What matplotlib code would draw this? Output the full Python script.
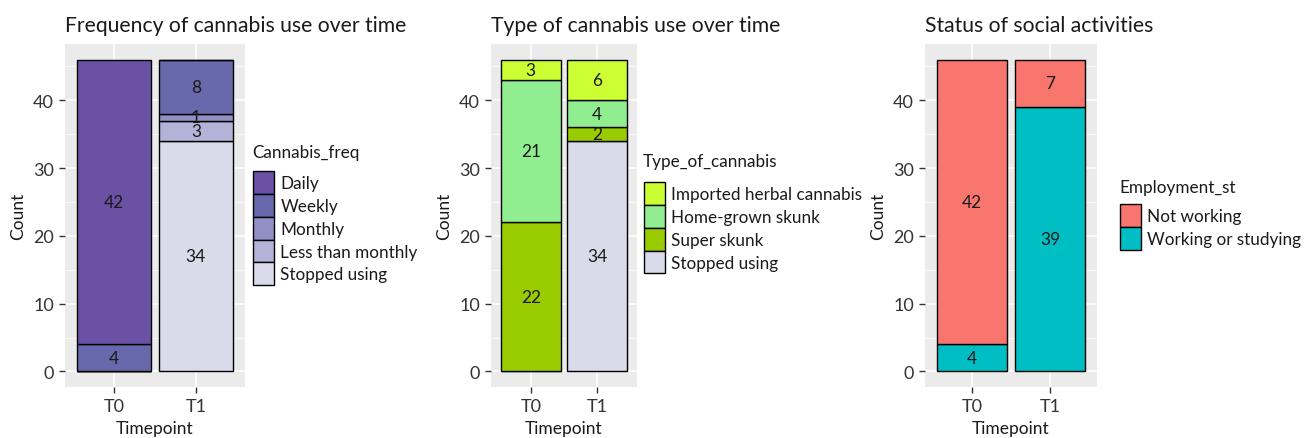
import matplotlib
matplotlib.use("Agg")
import matplotlib.pyplot as plt
from matplotlib.patches import Patch
import numpy as np

plt.rcParams['font.family'] = ['Lato', 'DejaVu Sans']

timepoints = ["T0", "T1"]

# panel 1: frequency of use (stack order bottom -> top)
freq_levels = ["Stopped using", "Less than monthly", "Monthly", "Weekly", "Daily"]
freq_counts = {
    "Stopped using":     [0, 34],
    "Less than monthly": [0, 3],
    "Monthly":           [0, 1],
    "Weekly":            [4, 8],
    "Daily":             [42, 0],
}
freq_colors = {
    "Daily": "#6a51a3",
    "Weekly": "#6868ac",
    "Monthly": "#9190c5",
    "Less than monthly": "#b3b3d8",
    "Stopped using": "#dadaeb",
}

# panel 2: type of cannabis
type_levels = ["Stopped using", "Super skunk", "Home-grown skunk", "Imported herbal cannabis"]
type_counts = {
    "Stopped using":            [0, 34],
    "Super skunk":              [22, 2],
    "Home-grown skunk":         [21, 4],
    "Imported herbal cannabis": [3, 6],
}
type_colors = {
    "Imported herbal cannabis": "#ccff33",
    "Home-grown skunk": "#90ee90",
    "Super skunk": "#99cc00",
    "Stopped using": "#dadaeb",
}

# panel 3: employment
emp_levels = ["Working or studying", "Not working"]
emp_counts = {
    "Working or studying": [4, 39],
    "Not working":         [42, 7],
}
emp_colors = {"Not working": "#f8766d", "Working or studying": "#00bfc4"}

W, H = 1311, 439
fig = plt.figure(figsize=(W / 100, H / 100), dpi=100)


def fx(px):
    return px / W


def fy(py):
    return 1 - py / H


def panel(x0, x1, title, levels, counts, colors, legend_title, leg_x, title_y, keys_y):
    ax = fig.add_axes([fx(x0), fy(388), fx(x1 - x0), (388 - 45) / H])
    ax.set_facecolor("#ebebeb")
    x = np.arange(len(timepoints))
    bottom = np.zeros(len(timepoints))
    for lev in levels:
        vals = np.array(counts[lev], dtype=float)
        ax.bar(x, vals, 0.9, bottom=bottom, color=colors[lev],
               edgecolor="black", linewidth=1.0, zorder=3)
        for xi, v, b in zip(x, vals, bottom):
            if v > 0:
                ax.text(xi, b + v / 2, f"{int(v)}", ha="center", va="center",
                        fontsize=12.5, color="#1a1a1a", zorder=4)
        bottom += vals
    ax.set_xlim(-0.6, 1.6)
    ax.set_ylim(-2.3, 48.3)
    ax.set_xticks(x)
    ax.set_xticklabels(timepoints)
    ax.set_yticks([0, 10, 20, 30, 40])
    ax.set_yticks([5, 15, 25, 35, 45], minor=True)
    ax.grid(which="major", color="white", linewidth=1.1, zorder=0)
    ax.grid(which="minor", axis="y", color="white", linewidth=0.5, zorder=0)
    ax.set_axisbelow(True)
    for s in ax.spines.values():
        s.set_visible(False)
    ax.tick_params(which="major", length=4, width=1, color="#333333",
                   labelsize=13, labelcolor="#333333", pad=4)
    ax.tick_params(which="minor", length=0)
    ax.set_xlabel("Timepoint", fontsize=12.5, color="#1a1a1a", labelpad=4)
    ax.set_ylabel("Count", fontsize=12.5, color="#1a1a1a", labelpad=5)
    ax.set_title(title, fontsize=15.2, color="#1a1a1a", loc="left", pad=9)

    # legend title drawn separately (ggplot leaves a gap above the keys)
    fig.text(fx(leg_x), fy(title_y), legend_title, fontsize=12.3,
             color="#1a1a1a", ha="left", va="center")
    handles = [Patch(facecolor=colors[l], edgecolor="black", linewidth=1.0)
               for l in reversed(levels)]
    fig.legend(handles, list(reversed(levels)),
               loc="upper left", bbox_to_anchor=(fx(leg_x + 1), fy(keys_y)),
               frameon=False, fontsize=12.3,
               handlelength=1.2, handleheight=1.68, labelspacing=0.0,
               handletextpad=0.4, borderpad=0, borderaxespad=0,
               labelcolor="#1a1a1a")
    return ax


panel(65, 245, "Frequency of cannabis use over time", freq_levels, freq_counts,
      freq_colors, "Cannabis_freq", 252, 153, 172)
panel(491, 637, "Type of cannabis use over time", type_levels, type_counts,
      type_colors, "Type_of_cannabis", 643, 162, 183)
panel(925, 1097, "Status of social activities", emp_levels, emp_counts,
      emp_colors, "Employment_st", 1119, 188, 205)

fig.savefig("out.png", dpi=100)
